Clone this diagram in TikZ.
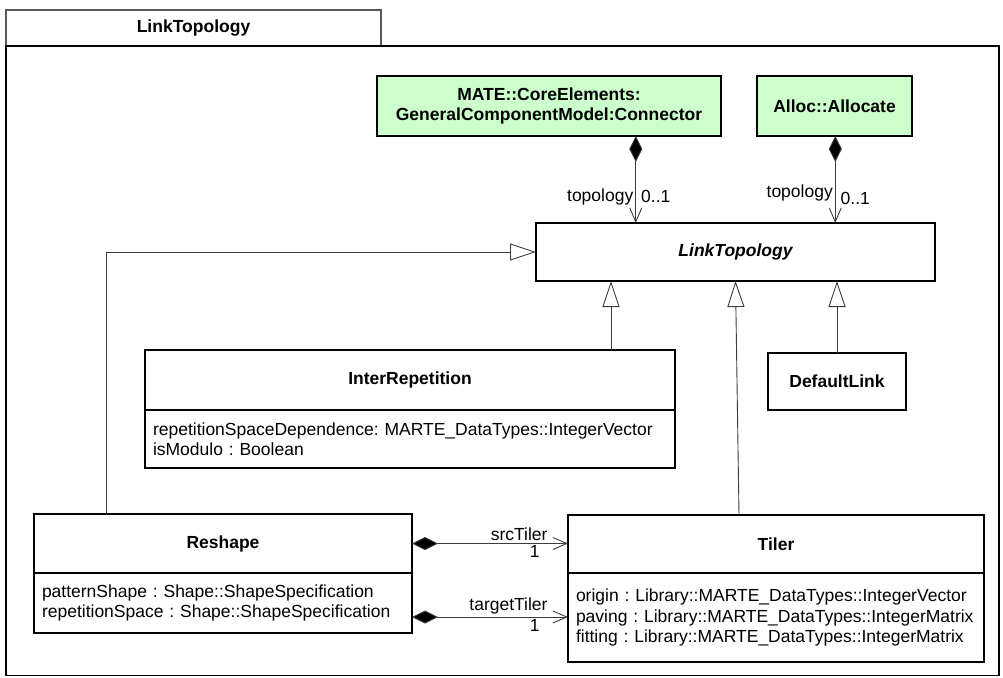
\documentclass[tikz,border=0pt]{standalone}
\usepackage{fontspec}
\setmainfont{Liberation Sans}
\frenchspacing
\usetikzlibrary{arrows.meta,calc,positioning}
\definecolor{classgreen}{HTML}{CCFFCC}
\definecolor{linegray}{HTML}{3C3C3C}

\tikzset{
  umlfont/.style={font=\fontsize{17.5}{20.5}\selectfont},
  classname/.style={draw,line width=1.2pt,fill=white,inner sep=0pt,outer sep=0pt,
    font=\fontsize{17.5}{20.5}\selectfont\bfseries},
  classattr/.style={draw,line width=1.2pt,fill=white,inner sep=8pt,outer sep=0pt,umlfont,align=left},
  extclass/.style={classname,fill=classgreen,align=center},
  gen/.style={draw=linegray,line width=0.9pt,-{Triangle[open,length=26pt,width=17pt,fill=white]}},
  comp/.style={draw=linegray,line width=0.9pt,
    {Diamond[length=26pt,width=13pt,fill=black]}-{Straight Barb[length=14pt,width=12pt]}},
  rolelabel/.style={umlfont,inner sep=2pt}
}

\begin{document}
\begin{tikzpicture}[x=1pt,y=-1pt]
  \useasboundingbox (0,0) rectangle (1003,677);
  % package frame
  \node[draw=black!65,line width=1.2pt,minimum width=375pt,minimum height=36pt,outer sep=0pt,
    anchor=south west,font=\fontsize{17.5}{20.5}\selectfont\bfseries] (pkgtab) at (6,46) {LinkTopology};
  \draw[line width=1.2pt] (pkgtab.south west) rectangle (999,675.5);
  \draw[line width=1.8pt] (pkgtab.south west) -- (999,46);

  % classes
  \node[extclass,minimum width=344pt,minimum height=60pt] (connector) at (549,106)
    {MATE::CoreElements:\\GeneralComponentModel:Connector};
  \node[extclass,minimum width=155pt,minimum height=60pt] (allocate) at (834.5,106) {Alloc::Allocate};
  \node[classname,minimum width=399pt,minimum height=58pt,font=\fontsize{17.5}{20.5}\selectfont\bfseries\itshape]
    (linktop) at (735.5,252) {LinkTopology};

  \node[classname,minimum width=530pt,minimum height=60pt] (interrep) at (410,380) {InterRepetition};
  \node[classattr,text width=514pt,minimum height=58pt,below=0pt of interrep] (interrepattr)
    {repetitionSpaceDependence: MARTE\_DataTypes::IntegerVector\\isModulo : Boolean};

  \node[classname,minimum width=138pt,minimum height=57pt] (deflink) at (837,381.5) {DefaultLink};

  \node[classname,minimum width=378pt,minimum height=59pt] (reshape) at (223,543.5) {Reshape};
  \node[classattr,text width=362pt,minimum height=60pt,below=0pt of reshape] (reshapeattr)
    {patternShape : Shape::ShapeSpecification\\repetitionSpace : Shape::ShapeSpecification};

  \node[classname,minimum width=416pt,minimum height=58pt] (tiler) at (776,544) {Tiler};
  \node[classattr,text width=400pt,minimum height=89pt,below=0pt of tiler] (tilerattr)
    {origin : Library::MARTE\_DataTypes::IntegerVector\\
     paving : Library::MARTE\_DataTypes::IntegerMatrix\\
     fitting : Library::MARTE\_DataTypes::IntegerMatrix};

  % composition ends on LinkTopology
  \coordinate (lt1) at ($(linktop.north west)!0.25!(linktop.north east)$);
  \coordinate (lt2) at ($(linktop.north west)!0.75!(linktop.north east)$);
  \draw[comp] (lt1 |- connector.south) -- (lt1)
    node[rolelabel,pos=0.7,left] {topology}
    node[rolelabel,pos=0.7,right,xshift=3pt] {0..1};
  \draw[comp] (lt2 |- allocate.south) -- (lt2)
    node[rolelabel,pos=0.66,left] {topology}
    node[rolelabel,pos=0.72,right,xshift=3pt] {0..1};

  % generalizations
  \coordinate (rs) at ($(reshape.north west)+(72,0)$);
  \coordinate (ir) at ($(interrep.north east)+(-64,0)$);
  \coordinate (tl) at ($(tiler.north west)+(171,0)$);
  \draw[gen] (rs) |- (linktop.west);
  \draw[gen] (ir) -- (ir |- linktop.south);
  \draw[gen] (deflink.north) -- (deflink.north |- linktop.south);
  \draw[gen] (tl) -- (linktop.south);

  % Reshape -- Tiler compositions
  \coordinate (rt) at ($(reshapeattr.south east)+(0,-16)$);
  \draw[comp] (reshape.east) -- (reshape.east -| tiler.west)
    node[rolelabel,pos=1,anchor=south east,xshift=-18pt] {srcTiler}
    node[rolelabel,pos=1,anchor=north east,xshift=-26pt] {1};
  \draw[comp] (rt) -- (rt -| tilerattr.west)
    node[rolelabel,pos=1,anchor=south east,xshift=-18pt] {targetTiler}
    node[rolelabel,pos=1,anchor=north east,xshift=-26pt] {1};
\end{tikzpicture}
\end{document}
